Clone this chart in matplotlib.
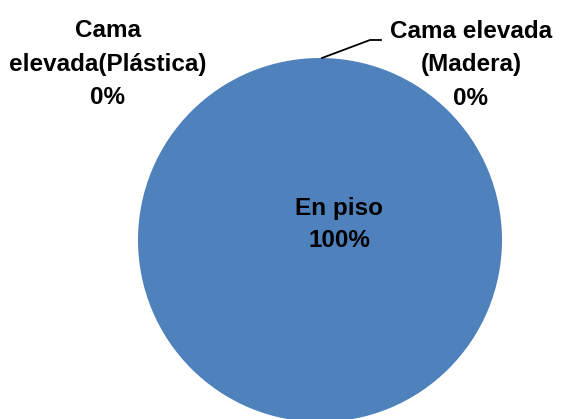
import matplotlib
matplotlib.use("Agg")
import matplotlib.pyplot as plt
from matplotlib import font_manager

categories = ["En piso", "Cama elevada\n(Madera)", "Cama\nelevada(Plástica)"]
values = [100, 0, 0]
pct_labels = ["100%", "0%", "0%"]

names = {f.name for f in font_manager.fontManager.ttflist}
fam = ["Liberation Sans Narrow", "Liberation Sans", "DejaVu Sans"]
fam = [f for f in fam if f in names] or ["DejaVu Sans"]

W, H = 561, 419
fig = plt.figure(figsize=(W/100, H/100), dpi=100)
ax = fig.add_axes([0, 0, 1, 1])

cx, cy, r = 320, 240, 182
ax.pie(values, colors=["#4F81BD", "#4F81BD", "#4F81BD"], center=(cx, cy), radius=r,
       startangle=90, counterclock=False, frame=True)
ax.set_xlim(0, W)
ax.set_ylim(H, 0)
ax.set_aspect("equal")
ax.axis("off")

fs = 17.5
kw = dict(fontsize=fs, fontweight="bold", family=fam, ha="center", va="center")
ax.text(339, 224, categories[0] + "\n" + pct_labels[0], linespacing=1.5, **kw)
ax.text(471, 65, categories[1] + "\n" + pct_labels[1], linespacing=1.6, **kw)
ax.text(108, 64, categories[2] + "\n" + pct_labels[2], linespacing=1.6, **kw)
ax.plot([cx + 2, 370, 381], [cy - r, 40, 40], color="black", lw=1.3)

fig.savefig("out.png", dpi=100)
